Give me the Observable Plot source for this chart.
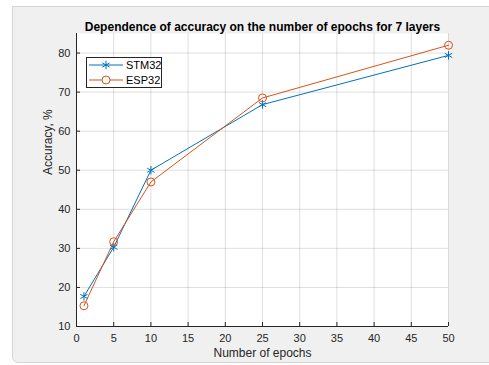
<!DOCTYPE html>
<html>
<head>
<meta charset="utf-8">
<script src="https://cdn.jsdelivr.net/npm/d3@7"></script>
<script src="https://cdn.jsdelivr.net/npm/@observablehq/plot@0.6"></script>
<style>
  html, body { margin: 0; padding: 0; background: #ffffff; }
  #wrap { position: relative; width: 489px; height: 365px; overflow: hidden; font-family: "Liberation Sans", Arial, Helvetica, sans-serif; }
  #panel { position: absolute; left: 12px; top: 6px; width: 490px; height: 357px; background: #f0f0f0; border: 1px solid #d4d4d4; border-bottom-left-radius: 6px; box-sizing: border-box; }
  #chart { position: absolute; left: 0; top: 0; }
  #legend { position: absolute; left: 86px; top: 57px; }
</style>
</head>
<body>
<div id="wrap">
  <div id="panel"></div>
  <div id="chart"></div>
  <div id="legend"></div>
</div>
<script>
const epochs = [1, 5, 10, 25, 50];
const stm32 = [17.7, 30.3, 50, 66.8, 79.4];
const esp32 = [15.3, 31.7, 47, 68.5, 82];
const seriesNames = ["STM32", "ESP32"];
const seriesColors = ["#0072BD", "#D95319"];
const xTicks = [0, 5, 10, 15, 20, 25, 30, 35, 40, 45, 50];
const yTicks = [10, 20, 30, 40, 50, 60, 70, 80];
const title = "Dependence of accuracy on the number of epochs for 7 layers";
const xLabel = "Number of epochs";
const yLabel = "Accuracy, %";

const stmRows = epochs.map((e, i) => ({epoch: e, acc: stm32[i]}));
const espRows = epochs.map((e, i) => ({epoch: e, acc: esp32[i]}));
const axisColor = "#262626";

const chart = Plot.plot({
  width: 489,
  height: 365,
  marginLeft: 76,
  marginRight: 41,
  marginTop: 33,
  marginBottom: 39,
  style: {background: "transparent", fontFamily: "'Liberation Sans', Arial, sans-serif", fontSize: "11px", color: axisColor},
  x: {domain: [0, 50]},
  y: {domain: [10, 85]},
  marks: [
    Plot.frame({fill: "white", stroke: null}),
    Plot.gridX(xTicks, {stroke: axisColor, strokeOpacity: 0.15}),
    Plot.gridY(yTicks, {stroke: axisColor, strokeOpacity: 0.15}),
    Plot.axisX(xTicks, {tickSize: 0, tickPadding: 8, label: null, fill: axisColor, fontSize: 11}),
    Plot.axisY(yTicks, {tickSize: 0, tickPadding: 6, label: null, fill: axisColor, fontSize: 11}),
    Plot.axisX(xTicks, {tickSize: -4, text: null, label: null, stroke: axisColor}),
    Plot.axisY(yTicks, {tickSize: -4, text: null, label: null, stroke: axisColor}),
    Plot.ruleY([10], {stroke: axisColor, strokeWidth: 1}),
    Plot.ruleX([0], {stroke: axisColor, strokeWidth: 1}),
    Plot.line(stmRows, {x: "epoch", y: "acc", stroke: seriesColors[0], strokeWidth: 1}),
    Plot.line(espRows, {x: "epoch", y: "acc", stroke: seriesColors[1], strokeWidth: 1}),
    Plot.dot(stmRows, {x: "epoch", y: "acc", symbol: "asterisk", r: 4, stroke: seriesColors[0], strokeWidth: 1}),
    Plot.dot(espRows, {x: "epoch", y: "acc", symbol: "circle", r: 4, stroke: seriesColors[1], fill: "none", strokeWidth: 1}),
    Plot.text([title], {frameAnchor: "top", dy: -11, fontWeight: "bold", fontSize: 12, fill: "#000"}),
    Plot.text([xLabel], {frameAnchor: "bottom", dy: 30, fontSize: 12, fill: axisColor}),
    Plot.text([yLabel], {frameAnchor: "left", dx: -28, dy: -5, rotate: -90, fontSize: 12, fill: axisColor})
  ]
});
document.getElementById("chart").append(chart);

// legend
const ns = "http://www.w3.org/2000/svg";
const lg = document.createElementNS(ns, "svg");
lg.setAttribute("width", 76);
lg.setAttribute("height", 31);
lg.innerHTML = `<rect x="0.5" y="0.5" width="75" height="30" fill="white" stroke="${axisColor}" stroke-width="1"/>`;
const sym = [d3.symbolAsterisk, d3.symbolCircle];
seriesNames.forEach((name, i) => {
  const y = 8 + i * 15;
  const g = document.createElementNS(ns, "g");
  const path = d3.symbol(sym[i], 50)();
  g.innerHTML = `<line x1="3" x2="37" y1="${y}" y2="${y}" stroke="${seriesColors[i]}" stroke-width="1"/>
    <path d="${path}" transform="translate(20,${y})" stroke="${seriesColors[i]}" fill="${i === 0 ? 'none' : 'white'}" stroke-width="1"/>
    <text x="40" y="${y}" dy="0.35em" font-size="11" fill="#000" font-family="'Liberation Sans', Arial, sans-serif">${name}</text>`;
  lg.append(g);
});
document.getElementById("legend").append(lg);
</script>
</body>
</html>
